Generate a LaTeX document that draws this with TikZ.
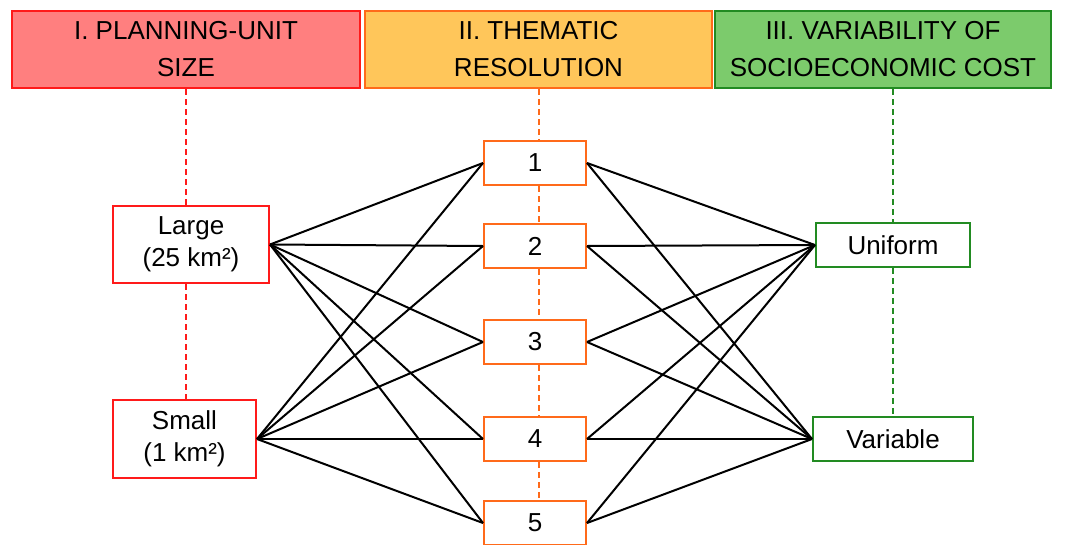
\documentclass[tikz,border=0pt]{standalone}
\usepackage{fontspec}
\setmainfont{Liberation Sans}
\definecolor{hredfill}{HTML}{FF7F7F}
\definecolor{hred}{HTML}{FF1A1A}
\definecolor{horfill}{HTML}{FFC65A}
\definecolor{hor}{HTML}{FF6A1A}
\definecolor{hgrfill}{HTML}{7CCB6C}
\definecolor{hgr}{HTML}{228B22}
\tikzset{
  hdr/.style={draw, line width=2pt, minimum height=77pt, inner sep=0pt, align=center,
              font=\fontsize{26}{37}\selectfont},
  boxn/.style={draw, line width=2pt, fill=white, inner sep=0pt, align=center,
              font=\fontsize{26}{32}\selectfont},
  link/.style={line width=2pt, black},
  dline/.style={line width=2pt, dash pattern=on 6pt off 4pt}
}
\begin{document}
\begin{tikzpicture}[x=1pt,y=-1pt]
\useasboundingbox (0,0) rectangle (1068,544);
\clip (0,0) rectangle (1068,544);
% headers
\node[hdr, draw=hred, fill=hredfill, minimum width=348pt] (h1) at (186,49.5) {I. PLANNING-UNIT\\SIZE};
\node[hdr, draw=hor, fill=horfill, minimum width=347pt] (h2) at (538.5,49.5) {II. THEMATIC\\RESOLUTION};
\node[hdr, draw=hgr, fill=hgrfill, minimum width=336pt] (h3) at (883,49.5) {III. VARIABILITY OF\\SOCIOECONOMIC COST};
% left column
\node[boxn, draw=hred, minimum width=156pt, minimum height=77pt] (L) at (191,244.5) {Large\\(25 km²)};
\node[boxn, draw=hred, minimum width=143pt, minimum height=78pt] (S) at (184.5,439) {Small\\(1 km²)};
% middle column
\foreach \i/\y in {1/163,2/246,3/342,4/439,5/523}{
  \node[boxn, draw=hor, minimum width=102pt, minimum height=44pt] (n\i) at (535,\y) {\i};
}
% right column
\node[boxn, draw=hgr, minimum width=154pt, minimum height=44pt] (U) at (893,245) {Uniform};
\node[boxn, draw=hgr, minimum width=160pt, minimum height=44pt] (V) at (893,439) {Variable};
% dashed guides
\draw[dline, hred] (h1.south) -- (h1.south |- L.north);
\draw[dline, hred] (h1.south |- L.south) -- (h1.south |- S.north);
\draw[dline, hor] (h2.south) -- (h2.south |- n1.north);
\draw[dline, hor] (h2.south |- n1.south) -- (h2.south |- n2.north);
\draw[dline, hor] (h2.south |- n2.south) -- (h2.south |- n3.north);
\draw[dline, hor] (h2.south |- n3.south) -- (h2.south |- n4.north);
\draw[dline, hor] (h2.south |- n4.south) -- (h2.south |- n5.north);
\draw[dline, hgr] (U.north |- h3.south) -- (U.north);
\draw[dline, hgr] (U.south) -- (V.north);
% connectors
\foreach \i in {1,...,5}{
  \draw[link] (L.east) -- (n\i.west);
  \draw[link] (S.east) -- (n\i.west);
  \draw[link] (n\i.east) -- (U.west);
  \draw[link] (n\i.east) -- (V.west);
}
\end{tikzpicture}
\end{document}
